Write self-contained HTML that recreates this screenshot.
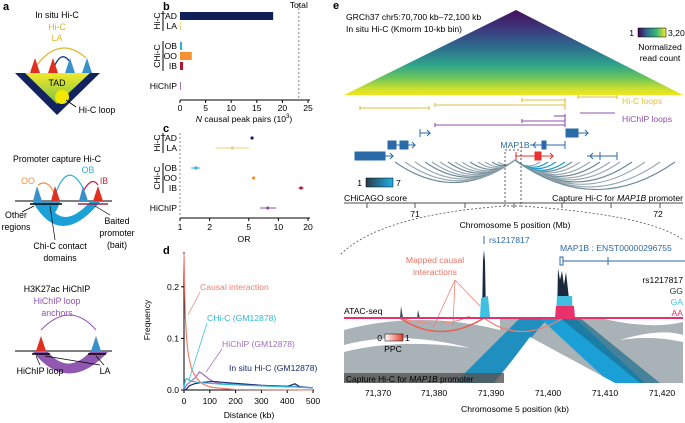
<!DOCTYPE html>
<html><head><meta charset="utf-8"><style>
html,body{margin:0;padding:0;background:#fff}
svg{display:block;font-family:"Liberation Sans",sans-serif}
text{font-family:"Liberation Sans",sans-serif}
</style></head><body>
<svg id="fig" width="685" height="423" viewBox="0 0 685 423" xmlns="http://www.w3.org/2000/svg">
<defs>
<linearGradient id="tadg" x1="0" y1="0" x2="0" y2="1"><stop offset="0" stop-color="#f2ea2a"/><stop offset="1" stop-color="#7cc142"/></linearGradient>
<linearGradient id="hic" x1="0" y1="1" x2="0" y2="0"><stop offset="0" stop-color="#f0e61c"/><stop offset="0.08" stop-color="#c8df30"/><stop offset="0.2" stop-color="#6cc55a"/><stop offset="0.35" stop-color="#2fa58a"/><stop offset="0.55" stop-color="#2c6f8e"/><stop offset="0.75" stop-color="#3b3f80"/><stop offset="1" stop-color="#440f5c"/></linearGradient>
<linearGradient id="vir" x1="0" x2="1"><stop offset="0" stop-color="#440154"/><stop offset="0.3" stop-color="#31688e"/><stop offset="0.65" stop-color="#35b779"/><stop offset="1" stop-color="#fde725"/></linearGradient>
<linearGradient id="chic" x1="0" x2="1"><stop offset="0" stop-color="#2a3a48"/><stop offset="1" stop-color="#20b0e8"/></linearGradient>
<linearGradient id="ppc" x1="0" x2="1"><stop offset="0" stop-color="#fff"/><stop offset="1" stop-color="#e04030"/></linearGradient>
</defs>

<!-- PANEL A -->
<g font-size="8.8">
<text x="3" y="10" font-weight="bold" font-size="11">a</text>
<text x="57" y="18" text-anchor="middle">In situ Hi-C</text>
<text x="57" y="30" text-anchor="middle" fill="#e0b830">Hi-C</text>
<text x="57" y="41" text-anchor="middle" fill="#e0b830">LA</text>
<path d="M37,65 Q60,35 86,58" fill="none" stroke="#e0b830" stroke-width="1.3"/>
<path d="M55,65 Q62,50 70,62" fill="none" stroke="#1a3a80" stroke-width="1.3"/>
<polygon points="15,73 100,73 57,115" fill="#12235e"/>
<polygon points="25,73 90,73 57,104" fill="url(#tadg)"/>
<text x="57" y="86" text-anchor="middle">TAD</text>
<circle cx="62" cy="97" r="7" fill="#f5e800"/>
<line x1="66" y1="100" x2="76" y2="107" stroke="#000" stroke-width="0.8"/>
<text x="97" y="113" text-anchor="middle">Hi-C loop</text>
<polygon points="30,73 35,58 40,73" fill="#e03020"/><polygon points="48,73 53,58 58,73" fill="#e03020"/>
<polygon points="65,73 70,58 75,73" fill="#3a90c8"/><polygon points="82,73 87,58 92,73" fill="#3a90c8"/>

<text x="57" y="162" text-anchor="middle">Promoter capture Hi-C</text>
<text x="88" y="173" text-anchor="middle" fill="#30b0d8">OB</text>
<text x="28" y="184" text-anchor="middle" fill="#f09040">OO</text>
<text x="104" y="184" text-anchor="middle" fill="#c02040">IB</text>
<path d="M55,195 Q48,178 38,185" fill="none" stroke="#f09040" stroke-width="1.2"/>
<path d="M55,195 Q68,158 84,190" fill="none" stroke="#30b0d8" stroke-width="1.2"/>
<path d="M84,190 Q92,176 98,185" fill="none" stroke="#c02040" stroke-width="1.2"/>
<path d="M33,202 Q60,250 100,202 L90,202 Q62,232 48,202 Z" fill="#1ba0d8"/>
<path d="M33,202 Q50,232 60,202 Z" fill="#1ba0d8"/>
<line x1="15" y1="201" x2="112" y2="201" stroke="#000" stroke-width="1"/>
<polygon points="33,201 37,186 42,201" fill="#3a90c8"/><polygon points="51,201 55,186 60,201" fill="#e03020"/>
<polygon points="79,201 83,186 88,201" fill="#3a90c8"/><polygon points="93,201 98,186 103,201" fill="#e03020"/>
<line x1="30" y1="204" x2="62" y2="204" stroke="#000" stroke-width="1.5"/>
<line x1="78" y1="204" x2="108" y2="204" stroke="#a02050" stroke-width="1.5"/>
<text x="16" y="218" text-anchor="middle">Other</text><text x="16" y="230" text-anchor="middle">regions</text>
<text x="60" y="249" text-anchor="middle">Chi-C contact</text><text x="60" y="261" text-anchor="middle">domains</text>
<text x="117" y="224" text-anchor="middle">Baited</text><text x="117" y="236" text-anchor="middle">promoter</text><text x="117" y="248" text-anchor="middle">(bait)</text>
<line x1="22" y1="212" x2="34" y2="206" stroke="#000" stroke-width="0.7"/>
<line x1="55" y1="240" x2="50" y2="206" stroke="#000" stroke-width="0.7"/>
<line x1="110" y1="215" x2="95" y2="206" stroke="#000" stroke-width="0.7"/>

<text x="57" y="292" text-anchor="middle">H3K27ac HiChIP</text>
<text x="57" y="304" text-anchor="middle" fill="#9050b0">HiChIP loop</text>
<text x="57" y="316" text-anchor="middle" fill="#9050b0">anchors</text>
<path d="M41,330 Q70,300 96,330" fill="none" stroke="#9050b0" stroke-width="1"/>
<path d="M33,352 Q68,395 108,352 L90,352 Q68,375 48,352 Z" fill="#9058b0"/>
<line x1="15" y1="351" x2="112" y2="351" stroke="#000" stroke-width="1"/>
<polygon points="36,351 41,336 46,351" fill="#e03020"/><polygon points="91,351 96,336 101,351" fill="#3a90c8"/>
<line x1="32" y1="354" x2="50" y2="354" stroke="#000" stroke-width="1.5"/><line x1="88" y1="354" x2="106" y2="354" stroke="#000" stroke-width="1.5"/>
<text x="40" y="374" text-anchor="middle">HiChIP loop</text><text x="105" y="374" text-anchor="middle">LA</text>
<line x1="40" y1="365" x2="36" y2="356" stroke="#000" stroke-width="0.7"/>
<line x1="100" y1="365" x2="45" y2="356" stroke="#000" stroke-width="0.7"/>
<line x1="104" y1="365" x2="96" y2="356" stroke="#000" stroke-width="0.7"/>
</g>

<g id="pb" font-size="8.6"></g>
<g id="pc" font-size="8.6"></g>
<g id="pd" font-size="8.6"></g>

<!-- PANEL E -->
<g font-size="8.6">
<text x="333" y="9" font-weight="bold" font-size="11">e</text>
<polygon points="344,95 516,10 683,95" fill="url(#hic)"/>
<text x="346" y="20">GRCh37 chr5:70,700 kb–72,100 kb</text>
<text x="346" y="32">In situ Hi-C (Kmorm 10-kb bin)</text>
<rect x="638" y="28" width="28" height="9" fill="url(#vir)" stroke="#000" stroke-width="0.5"/>
<text x="634" y="36" text-anchor="end">1</text><text x="668" y="36">3,200</text>
<text x="660" y="50" text-anchor="middle">Normalized</text><text x="660" y="61" text-anchor="middle">read count</text>
<g stroke="#e0c040" stroke-width="1.1">
<line x1="522" y1="100" x2="565" y2="100"/><line x1="578" y1="97" x2="617" y2="97"/>
<line x1="360" y1="108" x2="429" y2="108"/><line x1="435" y1="105" x2="565" y2="105"/>
<line x1="522" y1="98" x2="522" y2="102"/><line x1="565" y1="98" x2="565" y2="110"/><line x1="578" y1="95" x2="578" y2="99"/><line x1="617" y1="95" x2="617" y2="99"/><line x1="360" y1="106" x2="360" y2="110"/><line x1="429" y1="106" x2="429" y2="110"/><line x1="435" y1="103" x2="435" y2="107"/>
</g>
<text x="622" y="104" fill="#e0c040">Hi-C loops</text>
<g stroke="#9050a8" stroke-width="1.1">
<line x1="554" y1="116" x2="565" y2="116"/><line x1="580" y1="113" x2="615" y2="113"/>
<line x1="522" y1="121" x2="565" y2="121"/><line x1="435" y1="125" x2="565" y2="125"/>
<line x1="565" y1="114" x2="565" y2="127"/><line x1="435" y1="123" x2="435" y2="127"/><line x1="522" y1="119" x2="522" y2="123"/>
</g>
<text x="622" y="122" fill="#9050a8">HiChIP loops</text>
<g stroke="#2a6aa8" fill="none" stroke-width="1">
<path d="M420,133 h10 l-3,-3 M430,133 l-3,3"/>
<line x1="420" y1="129" x2="420" y2="137"/>
<rect x="566" y="129" width="12" height="8" fill="#2a6aa8"/><path d="M566,133 h22 l-3,-3 M588,133 l-3,3"/>
<rect x="388" y="141" width="8" height="8" fill="#2a6aa8"/><rect x="400" y="141" width="8" height="8" fill="#2a6aa8"/><path d="M388,145 h27 l-3,-3 M415,145 l-3,3"/>
<path d="M530,145 h35 M533,145 l3,-3 M533,145 l3,3"/><rect x="542" y="141" width="4" height="8" fill="#2a6aa8"/><line x1="565" y1="141" x2="565" y2="149"/>
<rect x="355" y="152" width="30" height="8" fill="#2a6aa8"/><path d="M355,156 h38 l-3,-3 M393,156 l-3,3"/>
<path d="M587,156 h30 M590,156 l3,-3 M590,156 l3,3"/><line x1="600" y1="152" x2="600" y2="160"/><line x1="617" y1="152" x2="617" y2="160"/>
</g>
<text x="515" y="148" text-anchor="middle" fill="#2a6aa8">MAP1B</text>
<g stroke="#e83030" fill="none"><path d="M515,156 h38 l-3,-3 M553,156 l-3,3"/><rect x="535" y="152" width="6" height="8" fill="#e83030"/><line x1="516" y1="152" x2="516" y2="160"/></g>
<g id="arcs"></g>
<rect x="366" y="178" width="27" height="9" fill="url(#chic)" stroke="#000" stroke-width="0.5"/>
<text x="362" y="186" text-anchor="end">1</text><text x="396" y="186">7</text>
<text x="344" y="201">CHiCAGO score</text>
<text x="683" y="201" text-anchor="end">Capture Hi-C for <tspan font-style="italic">MAP1B</tspan> promoter</text>
<line x1="344" y1="203" x2="683" y2="203" stroke="#888" stroke-width="1.5"/>
<g stroke="#555"><line x1="367" y1="203" x2="367" y2="208"/><line x1="415" y1="203" x2="415" y2="208"/><line x1="465" y1="203" x2="465" y2="208"/><line x1="514" y1="203" x2="514" y2="208"/><line x1="562" y1="203" x2="562" y2="208"/><line x1="611" y1="203" x2="611" y2="208"/><line x1="660" y1="203" x2="660" y2="208"/></g>
<text x="415" y="217" text-anchor="middle">71</text><text x="658" y="217" text-anchor="middle">72</text>
<text x="515" y="228" text-anchor="middle">Chromosome 5 position (Mb)</text>
<rect x="505" y="150" width="16" height="56" fill="none" stroke="#333" stroke-dasharray="2,2" stroke-width="0.8"/>
<path d="M505,206 Q380,215 340,255" fill="none" stroke="#555" stroke-dasharray="2,2" stroke-width="0.8"/>
<path d="M521,206 Q650,215 683,240" fill="none" stroke="#555" stroke-dasharray="2,2" stroke-width="0.8"/>
<rect x="344" y="318" width="339" height="65" fill="#a9b2b7"/>
<path d="M344,330 Q420,310 500,330 L500,318 L344,318Z" fill="#fff"/>
<path d="M344,345 Q400,330 470,348 Q400,338 344,352Z" fill="#fff"/>
<path d="M600,318 Q650,330 683,322 L683,318Z" fill="#fff"/>
<path d="M620,340 Q660,328 683,335 L683,342 Q650,335 620,340Z" fill="#fff"/>
<polygon points="520,318 548,318 493,383 455,383" fill="#1e8fbf"/>
<polygon points="540,318 575,318 645,383 610,383" fill="#1aa0d6"/>
<polygon points="530,337 495,383 615,383" fill="#fff"/>
<polygon points="560,318 580,318 660,383 640,383" fill="#1e6e8e" opacity="0.7"/>
<rect x="344" y="373" width="160" height="10" fill="#555" opacity="0.8"/>
<text x="346" y="382" font-size="8.4">Capture Hi-C for <tspan font-style="italic">MAP1B</tspan> promoter</text>
<rect x="385" y="334" width="18" height="7" fill="url(#ppc)" stroke="#000" stroke-width="0.5"/>
<text x="382" y="341" text-anchor="end">0</text><text x="405" y="341">1</text>
<text x="393" y="352" text-anchor="middle">PPC</text>
<line x1="484" y1="236" x2="484" y2="244" stroke="#2a6aa8"/>
<text x="489" y="243" fill="#2a6aa8">rs1217817</text>
<text x="560" y="251" fill="#2a6aa8">MAP1B : ENST00000296755</text>
<line x1="563" y1="261" x2="685" y2="261" stroke="#2a6aa8"/><rect x="560" y="257" width="3" height="8" fill="none" stroke="#2a6aa8"/><line x1="608" y1="257" x2="608" y2="265" stroke="#2a6aa8"/>
<text x="435" y="263" text-anchor="middle" fill="#f07060">Mapped causal</text><text x="435" y="275" text-anchor="middle" fill="#f07060">interactions</text>
<g stroke="#f08070" stroke-width="0.8" fill="none"><line x1="455" y1="280" x2="433" y2="328"/><line x1="455" y1="280" x2="453" y2="326"/><line x1="455" y1="280" x2="480" y2="306"/></g>
<path d="M400,318 Q440,345 484,318" fill="none" stroke="#e86050" stroke-width="1.5"/>
<path d="M400,318 Q440,330 470,316" fill="none" stroke="#f09080" stroke-width="1.2"/>
<path d="M484,318 Q520,345 563,318" fill="none" stroke="#f08070" stroke-width="1.2"/>
<text x="344" y="314">ATAC-seq</text>
<polygon points="482,317 483,260 484,250 485,262 486,317" fill="#1a2a3c"/>
<polygon points="480,317 481,298 488,296 490,317" fill="#40c0e0"/>
<polygon points="557,317 558,268 560,280 562,271 564,285 566,272 568,290 571,317" fill="#1a2a3c"/>
<polygon points="556,317 557,296 572,296 573,317" fill="#40c0e0"/>
<polygon points="555,318 556,306 574,306 575,318" fill="#e8306a"/>
<polygon points="400,318 401,306 403,318" fill="#3a4a60"/>
<polygon points="417,318 418,310 420,318" fill="#3a4a60"/>
<line x1="344" y1="318" x2="683" y2="318" stroke="#e8306a" stroke-width="2"/>
<text x="683" y="283" text-anchor="end">rs1217817</text>
<text x="683" y="294" text-anchor="end" fill="#333">GG</text>
<text x="683" y="305" text-anchor="end" fill="#40c0e0">GA</text>
<text x="683" y="316" text-anchor="end" fill="#e8306a">AA</text>
<g text-anchor="middle"><text x="378" y="396">71,370</text><text x="434" y="396">71,380</text><text x="491" y="396">71,390</text><text x="548" y="396">71,400</text><text x="605" y="396">71,410</text><text x="662" y="396">71,420</text></g>
<text x="515" y="412" text-anchor="middle">Chromosome 5 position (kb)</text>
</g>
</svg>
<script>
// ---- Panel b data
const bCats = ['TAD','LA','OB','OO','IB','HiChIP'];
const bVals = [18.2, 0.1, 0.4, 2.3, 0.6, 0.1];
const bTicks = [0,5,10,15,20,25];
const bTotal = 23.2;
// ---- Panel c data
const cEst = [5.4, 3.4, 1.45, 5.6, 17, 7.8];
const cLo = [5.3, 2.3, 1.3, 5.4, 16, 6.5];
const cHi = [5.5, 5.0, 1.6, 5.8, 18, 9.5];
const cTicks = [1,2,5,10,20];
// ---- Panel d data
const dX = [0,5,10,15,20,30,40,50,60,75,100,125,150,200,250,300,350,400,430,450,500];
const dCausal = [0.265,0.145,0.10,0.075,0.06,0.04,0.03,0.022,0.017,0.011,0.006,0.004,0.003,0.001,0.0008,0.0005,0.0004,0.0003,0.0003,0.0002,0.0002];
const dChiC = [0.004,0.02,0.022,0.021,0.019,0.017,0.016,0.015,0.015,0.014,0.013,0.012,0.011,0.010,0.009,0.008,0.007,0.006,0.006,0.005,0.004];
const dHiChIP = [0.0,0.005,0.01,0.012,0.014,0.018,0.022,0.028,0.035,0.03,0.02,0.014,0.012,0.011,0.010,0.009,0.008,0.007,0.007,0.006,0.004];
const dHiC = [0.0,0.0,0.002,0.005,0.008,0.01,0.012,0.013,0.014,0.015,0.016,0.016,0.015,0.013,0.011,0.009,0.008,0.007,0.012,0.006,0.004];
const dYTicks = [0.0,0.1,0.2];
const dXTicks = [0,100,200,300,400,500];
const slots = [0,1,3,4,5,7];
const NS='http://www.w3.org/2000/svg';
function mk(p,tag,at,txt){const e=document.createElementNS(NS,tag);for(const k in at)e.setAttribute(k,at[k]);if(txt!==undefined)e.textContent=txt;p.appendChild(e);return e;}
const pb=document.getElementById('pb');
const bx=v=>180+v*(128/25), by=i=>16+slots[i]*10;
mk(pb,'text',{x:163,y:10,'font-weight':'bold','font-size':11},'b');
mk(pb,'line',{x1:bx(bTotal),y1:4,x2:bx(bTotal),y2:100,stroke:'#888','stroke-dasharray':'2,2'});
mk(pb,'text',{x:bx(bTotal),y:8,'text-anchor':'middle'},'Total');
const bColors=['#10205a','#e8d070','#30b0d8','#f49030','#b01830','#9050a0'];
bCats.forEach((c,i)=>{
  const r=mk(pb,'rect',{x:180,y:by(i)-4,width:Math.max(0.8,bx(bVals[i])-180),height:8,fill:bColors[i]});
  
  
  mk(pb,'text',{x:177,y:by(i)+3,'text-anchor':'end'},c);
});
mk(pb,'line',{x1:180,y1:100,x2:310,y2:100,stroke:'#000'});
bTicks.forEach(t=>{mk(pb,'line',{x1:bx(t),y1:100,x2:bx(t),y2:103,stroke:'#000'});mk(pb,'text',{x:bx(t),y:111,'text-anchor':'middle'},String(t));});
const bt=mk(pb,'text',{x:244,y:122,'text-anchor':'middle'});bt.innerHTML='<tspan font-style="italic">N</tspan> causal peak pairs (10<tspan font-size="6" dy="-4">3</tspan><tspan dy="4">)</tspan>';
function grp(p,y1,y2,label){mk(p,'line',{x1:163,y1:y1,x2:163,y2:y2,stroke:'#000'});mk(p,'text',{x:0,y:0,'text-anchor':'middle',transform:`translate(160,${(y1+y2)/2}) rotate(-90)`},label);}
const pc=document.getElementById('pc');
const cx=v=>180+Math.log10(v)/Math.log10(20)*128, cy=i=>138+slots[i]*10;
mk(pc,'text',{x:163,y:132,'font-weight':'bold','font-size':11},'c');
mk(pc,'line',{x1:180,y1:133,x2:180,y2:216,stroke:'#888','stroke-dasharray':'2,2'});
bCats.forEach((c,i)=>{
  mk(pc,'line',{x1:cx(cLo[i]),y1:cy(i),x2:cx(cHi[i]),y2:cy(i),stroke:bColors[i],'stroke-width':1});
  const p=mk(pc,'circle',{cx:cx(cEst[i]),cy:cy(i),r:1.6,fill:bColors[i]});
  
  
  mk(pc,'text',{x:177,y:cy(i)+3,'text-anchor':'end'},c);
});
mk(pc,'line',{x1:180,y1:218,x2:310,y2:218,stroke:'#000'});
cTicks.forEach(t=>{mk(pc,'line',{x1:cx(t),y1:218,x2:cx(t),y2:221,stroke:'#000'});mk(pc,'text',{x:cx(t),y:230,'text-anchor':'middle'},String(t));});
mk(pc,'text',{x:244,y:242,'text-anchor':'middle'},'OR');
[[pb,by(0)-5,by(1)+5,'Hi-C'],[pb,by(2)-5,by(4)+5,'CHi-C'],[pc,cy(0)-5,cy(1)+5,'Hi-C'],[pc,cy(2)-5,cy(4)+5,'CHi-C']].forEach(a=>grp(...a));
const pd=document.getElementById('pd');
const dx=v=>184+v*(129/500), dy=v=>390-v*516;
mk(pd,'text',{x:163,y:254,'font-weight':'bold','font-size':11},'d');
mk(pd,'line',{x1:184,y1:252,x2:184,y2:390,stroke:'#000'});
mk(pd,'line',{x1:184,y1:390,x2:314,y2:390,stroke:'#000'});
dYTicks.forEach(t=>{mk(pd,'line',{x1:181,y1:dy(t),x2:184,y2:dy(t),stroke:'#000'});mk(pd,'text',{x:179,y:dy(t)+3,'text-anchor':'end'},t.toFixed(1));});
dXTicks.forEach(t=>{mk(pd,'line',{x1:dx(t),y1:390,x2:dx(t),y2:393,stroke:'#000'});mk(pd,'text',{x:dx(t),y:404,'text-anchor':'middle'},String(t));});
mk(pd,'text',{x:0,y:0,'text-anchor':'middle',transform:'translate(150,320) rotate(-90)'},'Frequency');
mk(pd,'text',{x:249,y:418,'text-anchor':'middle'},'Distance (kb)');
const series=[[dHiChIP,'#a070c0','hichip-line'],[dHiC,'#1a2a6c','insitu-hic-line'],[dChiC,'#30b8d8','chic-line'],[dCausal,'#f08070','causal-line']];
series.forEach(([vals,col,name])=>{
  const pts=vals.map((v,i)=>dx(dX[i]).toFixed(1)+','+dy(v).toFixed(1)).join(' ');
  const l=mk(pd,'polyline',{points:pts,fill:'none',stroke:col,'stroke-width':1.2});
  
  
});
mk(pd,'text',{x:200,y:290,fill:'#f08070'},'Causal interaction');
mk(pd,'line',{x1:200,y1:292,x2:188,y2:315,stroke:'#f08070','stroke-width':0.7});
mk(pd,'text',{x:207,y:321,fill:'#30b8d8'},'CHi-C (GM12878)');
mk(pd,'line',{x1:207,y1:323,x2:189,y2:380,stroke:'#30b8d8','stroke-width':0.7});
mk(pd,'text',{x:222,y:347,fill:'#a070c0'},'HiChIP (GM12878)');
mk(pd,'line',{x1:222,y1:349,x2:206,y2:372,stroke:'#a070c0','stroke-width':0.7});
mk(pd,'text',{x:229,y:371,fill:'#1a2a6c'},'In situ Hi-C (GM12878)');
const arcTargets=[395,405,415,425,432,440,448,455,462,470,478,485,492,498,540,548,556,565,572,580,590,600,610,620,632,645,660,675];
const arcs=document.getElementById('arcs');
arcTargets.forEach((t,i)=>{
  const d=Math.abs(t-515);
  const a=mk(arcs,'path',{d:`M515,160 Q${(515+t)/2},${162+d*0.35} ${t},162`,fill:'none',stroke:(t>540&&t<570)?'#1a9ad0':(i%3===0?'#6a8a98':'#98a8b0'),'stroke-width':1.1});
  
  
});
</script>
</body></html>
